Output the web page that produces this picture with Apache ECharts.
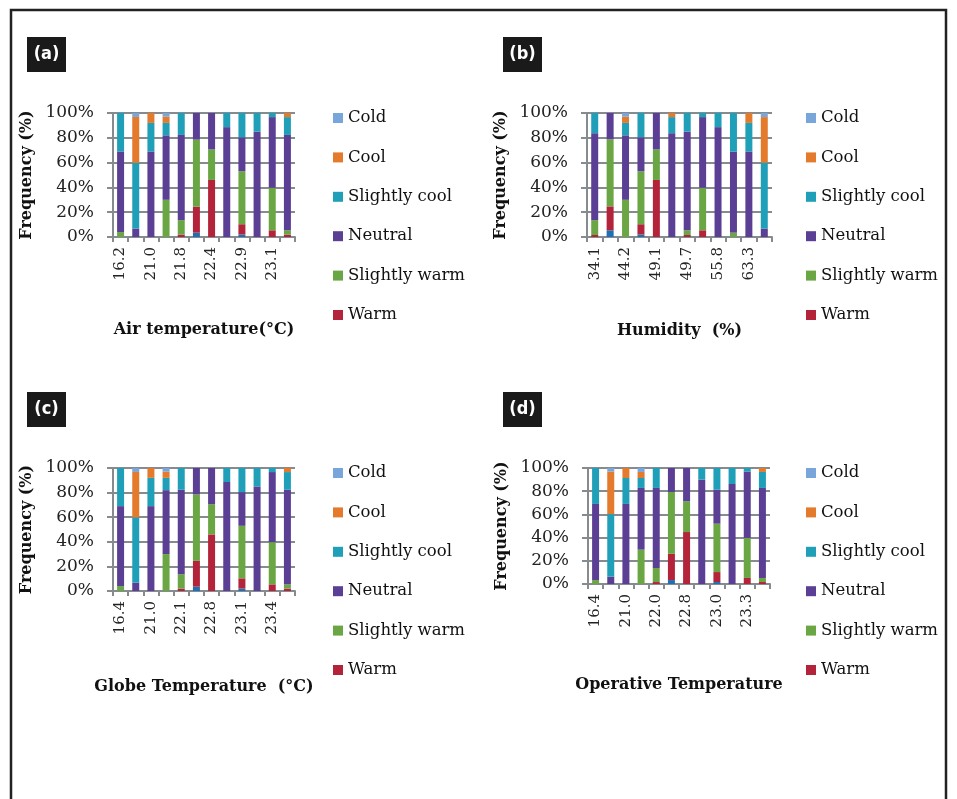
<!DOCTYPE html>
<html>
<head>
<meta charset="utf-8">
<script src="https://cdn.jsdelivr.net/npm/echarts@6/dist/echarts.min.js"></script>
<style>
html,body{margin:0;padding:0;background:#fff;}
#chart{width:957px;height:799px;}
</style>
</head>
<body>
<div id="chart"></div>
<script>
// ---- Data (percent of votes per thermal sensation class) ----
const classNames = ['Hot', 'Warm', 'Slightly warm', 'Neutral', 'Slightly cool', 'Cool', 'Cold'];
const legendNames = ['Cold', 'Cool', 'Slightly cool', 'Neutral', 'Slightly warm', 'Warm'];
const yTicks = [0, 20, 40, 60, 80, 100];

// (a) Air temperature (°C)
const airCats = ['16.2', '20.6', '21.0', '21.4', '21.8', '22.2', '22.4', '22.6', '22.9', '23.0', '23.1', '23.5'];
const airHot   = [0, 0, 0, 0, 0, 3.5, 0, 0, 2, 0, 0, 0];
const airWarm  = [0, 0, 0, 0, 2, 21, 46, 0, 8.3, 0, 5.4, 2];
const airSW    = [4, 0, 0, 30, 11.6, 54, 24.6, 0, 42.7, 0, 34.3, 3.4];
const airNeu   = [65, 6.8, 69, 52, 68.7, 21.5, 29.4, 88.6, 27.4, 85, 57, 76.9];
const airSC    = [31, 53, 23, 10, 17.7, 0, 0, 11.4, 19.6, 15, 3.3, 14.4];
const airCool  = [0, 37, 8, 5, 0, 0, 0, 0, 0, 0, 0, 3.3];
const airCold  = [0, 3.2, 0, 3, 0, 0, 0, 0, 0, 0, 0, 0];

// (b) Humidity (%)
const humCats = ['34.1', '40.0', '44.2', '47.5', '49.1', '49.5', '49.7', '52.0', '55.8', '60.0', '63.3', '65.0'];
const humHot   = [0, 5.4, 0, 2, 0, 0, 0, 0, 0, 0, 0, 0];
const humWarm  = [1.6, 19.3, 0, 8.3, 46, 0, 1.6, 5.4, 0, 0, 0, 0];
const humSW    = [12, 54.1, 30, 42.7, 24.6, 0, 3.8, 34.3, 0, 3.5, 0, 0];
const humNeu   = [70.1, 21.2, 52, 27.4, 29.4, 83.7, 79.6, 57, 88.6, 65.3, 69, 6.8];
const humSC    = [16.3, 0, 10, 19.6, 0, 13, 15, 3.3, 11.4, 31.2, 23, 53.2];
const humCool  = [0, 0, 5, 0, 0, 3.3, 0, 0, 0, 0, 8, 36.7];
const humCold  = [0, 0, 3, 0, 0, 0, 0, 0, 0, 0, 0, 3.3];

// (c) Globe Temperature (°C)
const globeCats = ['16.4', '20.7', '21.0', '21.6', '22.1', '22.5', '22.8', '23.0', '23.1', '23.3', '23.4', '23.7'];
const globeHot   = [0, 0, 0, 0, 0, 3.5, 0, 0, 2, 0, 0, 0];
const globeWarm  = [0, 0, 0, 0, 2, 21, 46, 0, 8.3, 0, 5.4, 2];
const globeSW    = [4, 0, 0, 30, 11.6, 54, 24.6, 0, 42.7, 0, 34.3, 3.4];
const globeNeu   = [65, 6.8, 69, 52, 68.7, 21.5, 29.4, 88.6, 27.4, 85, 57, 76.9];
const globeSC    = [31, 53, 23, 10, 17.7, 0, 0, 11.4, 19.6, 15, 3.3, 14.4];
const globeCool  = [0, 37, 8, 5, 0, 0, 0, 0, 0, 0, 0, 3.3];
const globeCold  = [0, 3.2, 0, 3, 0, 0, 0, 0, 0, 0, 0, 0];

// (d) Operative Temperature
const opCats = ['16.4', '20.7', '21.0', '21.5', '22.0', '22.5', '22.8', '22.9', '23.0', '23.2', '23.3', '23.6'];
const opHot   = [0, 0, 0, 0, 0, 3.4, 0, 0, 1.7, 0, 0, 0];
const opWarm  = [0, 0, 0, 0, 1.7, 22.6, 44.8, 0, 8.6, 0, 5.2, 1.7];
const opSW    = [3.4, 0, 0, 29.6, 12.1, 53.3, 26.5, 0, 41.7, 0, 34.5, 3.5];
const opNeu   = [65.6, 6.3, 69, 53.2, 69, 20.7, 28.7, 90, 29.3, 86.2, 57.3, 77.6];
const opSC    = [31, 54, 22.4, 8.6, 17.2, 0, 0, 10, 18.7, 13.8, 3, 13.8];
const opCool  = [0, 36.7, 8.6, 5.2, 0, 0, 0, 0, 0, 0, 0, 3.4];
const opCold  = [0, 3, 0, 3.4, 0, 0, 0, 0, 0, 0, 0, 0];

const panels = [
  { tag: '(a)', title: 'Air temperature(°C)', cats: airCats,
    values: [airHot, airWarm, airSW, airNeu, airSC, airCool, airCold] },
  { tag: '(b)', title: 'Humidity  (%)', cats: humCats,
    values: [humHot, humWarm, humSW, humNeu, humSC, humCool, humCold] },
  { tag: '(c)', title: 'Globe Temperature  (°C)', cats: globeCats,
    values: [globeHot, globeWarm, globeSW, globeNeu, globeSC, globeCool, globeCold] },
  { tag: '(d)', title: 'Operative Temperature', cats: opCats,
    values: [opHot, opWarm, opSW, opNeu, opSC, opCool, opCold] }
];

// ---- Styling / layout ----
const colors = {
  'Hot': '#1f6fb5',
  'Warm': '#b3243b',
  'Slightly warm': '#6aa744',
  'Neutral': '#5b3f94',
  'Slightly cool': '#1fa0b8',
  'Cool': '#e47a2b',
  'Cold': '#79a6da'
};
const FONT = 'DejaVu Serif';
const AX = '#868b90';
const layout = [
  { grid: { left: 113, top: 113, width: 182, height: 124 }, nameGap: 85, legend: { left: 333, top: 108 }, box: [27, 37] },
  { grid: { left: 587, top: 113, width: 185, height: 124 }, nameGap: 86, legend: { left: 806, top: 108 }, box: [503, 37] },
  { grid: { left: 113, top: 468, width: 182, height: 123 }, nameGap: 88, legend: { left: 333, top: 463 }, box: [27, 392] },
  { grid: { left: 588, top: 468, width: 182, height: 116 }, nameGap: 93, legend: { left: 806, top: 463 }, box: [503, 392] }
];

const grids = [], xAxes = [], yAxes = [], series = [], legends = [], graphics = [];

graphics.push({
  type: 'rect', shape: { x: 11, y: 10, width: 935, height: 820 },
  style: { fill: 'none', stroke: '#222', lineWidth: 2.5 }, silent: true
});

panels.forEach((p, i) => {
  const L = layout[i];
  grids.push(L.grid);
  xAxes.push({
    type: 'category', gridIndex: i, data: p.cats,
    name: p.title, nameLocation: 'middle', nameGap: L.nameGap,
    nameTextStyle: { fontFamily: FONT, fontWeight: 'bold', fontSize: 16, color: '#111' },
    axisLine: { lineStyle: { color: AX, width: 2 } },
    axisTick: { show: true, interval: 0, length: 5, lineStyle: { color: AX, width: 2 } },
    axisLabel: { interval: 1, rotate: 90, margin: 10, fontFamily: FONT, fontSize: 15, color: '#222' },
    splitLine: { show: false }
  });
  yAxes.push({
    type: 'value', gridIndex: i, min: yTicks[0], max: yTicks[yTicks.length - 1], interval: 20,
    name: 'Frequency (%)', nameLocation: 'middle', nameGap: 78,
    nameTextStyle: { fontFamily: FONT, fontWeight: 'bold', fontSize: 16, color: '#111' },
    axisLine: { show: true, lineStyle: { color: AX, width: 2 } },
    axisTick: { show: true, length: 6, lineStyle: { color: AX, width: 2 } },
    axisLabel: { formatter: '{value}%', margin: 19, fontFamily: FONT, fontSize: 17, color: '#222' },
    splitLine: { show: true, lineStyle: { color: AX, width: 2 } }
  });
  classNames.forEach((name, k) => {
    series.push({
      type: 'bar', name: name, stack: 'p' + i, xAxisIndex: i, yAxisIndex: i,
      data: p.values[k], barWidth: 7,
      itemStyle: { color: colors[name] }, emphasis: { disabled: true }
    });
  });
  legends.push({
    data: legendNames, orient: 'vertical', left: L.legend.left, top: L.legend.top,
    padding: 0, itemWidth: 10, itemHeight: 10, itemGap: 19.4, icon: 'rect',
    textStyle: { fontFamily: FONT, fontSize: 16.5, color: '#111', lineHeight: 20 },
    selectedMode: false
  });
  graphics.push({
    type: 'group', left: L.box[0], top: L.box[1], children: [
      { type: 'rect', shape: { x: 0, y: 0, width: 39, height: 35 }, style: { fill: '#1a1a1a' } },
      { type: 'text', x: 19.5, y: 17.5, style: { text: p.tag, fill: '#fff', font: 'bold 18px "DejaVu Sans Condensed", "DejaVu Sans"', textAlign: 'center', textVerticalAlign: 'middle' } }
    ]
  });
});

const chart = echarts.init(document.getElementById('chart'), null, { renderer: 'canvas' });
chart.setOption({
  backgroundColor: '#fff',
  animation: false,
  textStyle: { fontFamily: FONT },
  grid: grids, xAxis: xAxes, yAxis: yAxes, series: series, legend: legends,
  graphic: graphics
});
</script>
</body>
</html>
